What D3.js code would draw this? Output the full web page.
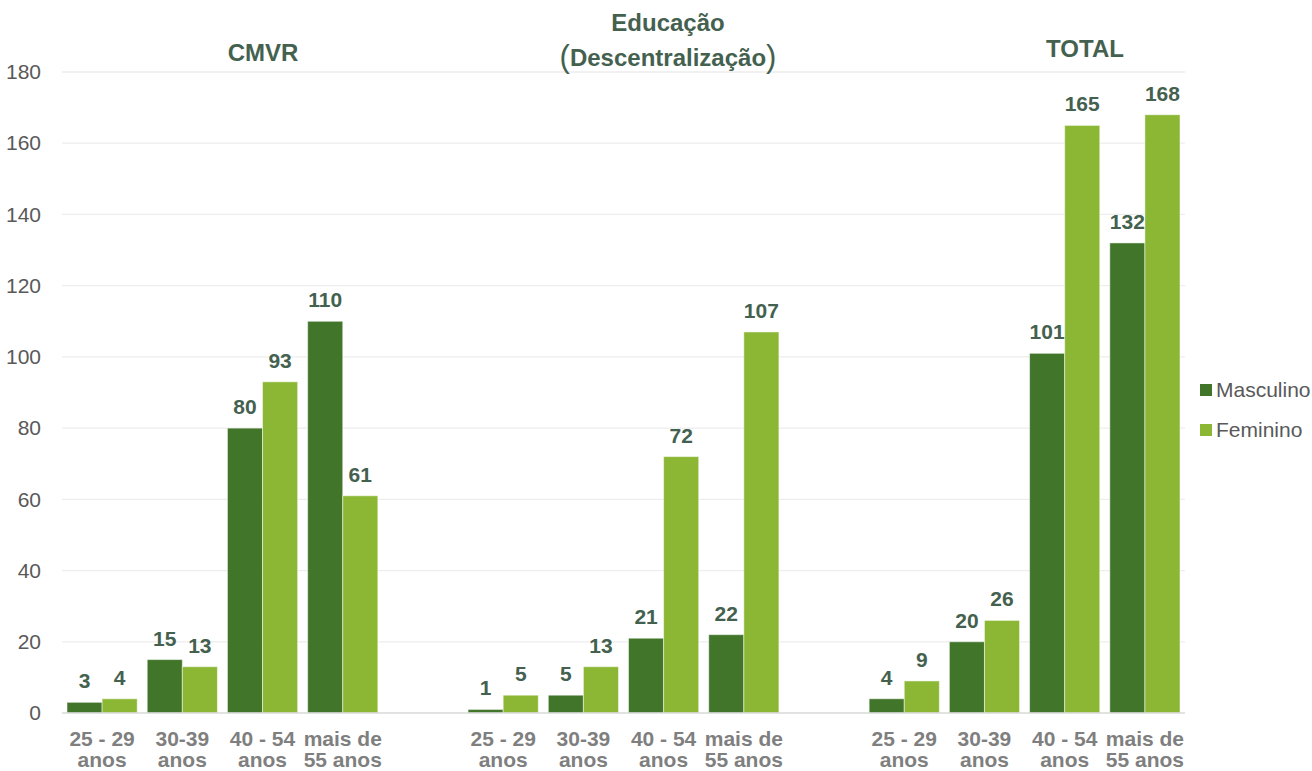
<!DOCTYPE html>
<html><head><meta charset="utf-8">
<script src="https://cdn.jsdelivr.net/npm/d3@7"></script>
<style>body{margin:0;background:#fff}svg{display:block;font-family:"Liberation Sans",Arial,sans-serif}</style>
</head><body><svg id="c" width="1312" height="771"></svg>
<script>
const groups = ["CMVR", "Educação (Descentralização)", "TOTAL"];
const ageCats = ["25 - 29|anos", "30-39|anos", "40 - 54|anos", "mais de|55 anos"];
const series = ["Masculino", "Feminino"];
const masculino = [[3, 15, 80, 110], [1, 5, 21, 22], [4, 20, 101, 132]];
const feminino = [[4, 13, 93, 61], [5, 13, 72, 107], [9, 26, 165, 168]];
const yTicks = [0, 20, 40, 60, 80, 100, 120, 140, 160, 180];
const colors = ["#41752A", "#8BB734"];

const svg = d3.select("#c");
const slots = [];
groups.forEach((g, gi) => {
  ageCats.forEach((c, ci) => slots.push(g + "::" + c));
  if (gi < groups.length - 1) slots.push("gap" + gi);
});
const x = d3.scaleBand().domain(slots).range([62, 1185]).paddingInner(0.125).paddingOuter(0.0625);
const y = d3.scaleLinear().domain([0, 180]).range([713, 72]);
const xs = d3.scaleBand().domain(series).range([0, x.bandwidth()]);

svg.append("g").selectAll("line").data(yTicks.filter(d => d > 0)).join("line")
  .attr("x1", 62).attr("x2", 1185).attr("y1", d => y(d)).attr("y2", d => y(d))
  .attr("stroke", "#EDEDED").attr("stroke-width", 1.3);

const ya = svg.append("g").attr("transform", "translate(62,0)")
  .call(d3.axisLeft(y).tickValues(yTicks).tickSize(0).tickPadding(21));
ya.select(".domain").remove();
ya.selectAll("text").attr("font-size", 21).attr("fill", "#595959").attr("font-family", "Liberation Sans, Arial, sans-serif");

const data = [];
groups.forEach((g, gi) => ageCats.forEach((c, ci) => {
  data.push({slot: g + "::" + c, s: "Masculino", v: masculino[gi][ci]});
  data.push({slot: g + "::" + c, s: "Feminino", v: feminino[gi][ci]});
}));
svg.append("g").selectAll("rect").data(data).join("rect")
  .attr("x", d => x(d.slot) + xs(d.s))
  .attr("y", d => y(d.v))
  .attr("width", xs.bandwidth())
  .attr("height", d => y(0) - y(d.v))
  .attr("fill", d => colors[series.indexOf(d.s)])
  .attr("stroke", "#ffffff").attr("stroke-opacity", 0.5).attr("stroke-width", 1);

svg.append("line").attr("x1", 62).attr("x2", 1185).attr("y1", y(0)).attr("y2", y(0))
  .attr("stroke", "#D9D9D9").attr("stroke-width", 1.5);

svg.append("g").selectAll("text").data(data).join("text")
  .attr("x", d => x(d.slot) + xs(d.s) + xs.bandwidth() / 2)
  .attr("y", d => y(d.v) - 14)
  .attr("text-anchor", "middle").attr("font-size", 21).attr("font-weight", "bold")
  .attr("fill", "#44614F").text(d => d.v);

const catG = svg.append("g");
groups.forEach(g => ageCats.forEach(c => {
  const t = catG.append("text").attr("text-anchor", "middle")
    .attr("font-size", 21).attr("font-weight", "bold").attr("fill", "#7F7F7F");
  c.split("|").forEach((line, i) => {
    t.append("tspan").attr("x", x(g + "::" + c) + x.bandwidth() / 2)
      .attr("y", 746 + i * 21).text(line);
  });
}));

const titleStyle = s => s.attr("text-anchor", "middle").attr("font-size", 24)
  .attr("font-weight", "bold").attr("fill", "#44614F");
svg.append("text").call(titleStyle).attr("x", 263).attr("y", 61).text("CMVR");
const t2 = svg.append("text").call(titleStyle);
t2.append("tspan").attr("x", 668).attr("y", 31).text("Educação");
const t2b = t2.append("tspan").attr("x", 668).attr("y", 66);
t2b.append("tspan").attr("font-size", 31).attr("font-weight", "normal").attr("dy", 1).text("(");
t2b.append("tspan").attr("dy", -1).text("Descentralização");
t2b.append("tspan").attr("font-size", 31).attr("font-weight", "normal").attr("dy", 1).text(")");
svg.append("text").call(titleStyle).attr("x", 1085).attr("y", 57).text("TOTAL");

const lg = svg.append("g").attr("transform", "translate(1200,0)");
series.forEach((s, i) => {
  lg.append("rect").attr("x", 0).attr("y", 384 + i * 40).attr("width", 12).attr("height", 12).attr("fill", colors[i]);
  lg.append("text").attr("x", 16).attr("y", 397 + i * 40).attr("font-size", 21).attr("fill", "#595959").text(s);
});
</script></body></html>
